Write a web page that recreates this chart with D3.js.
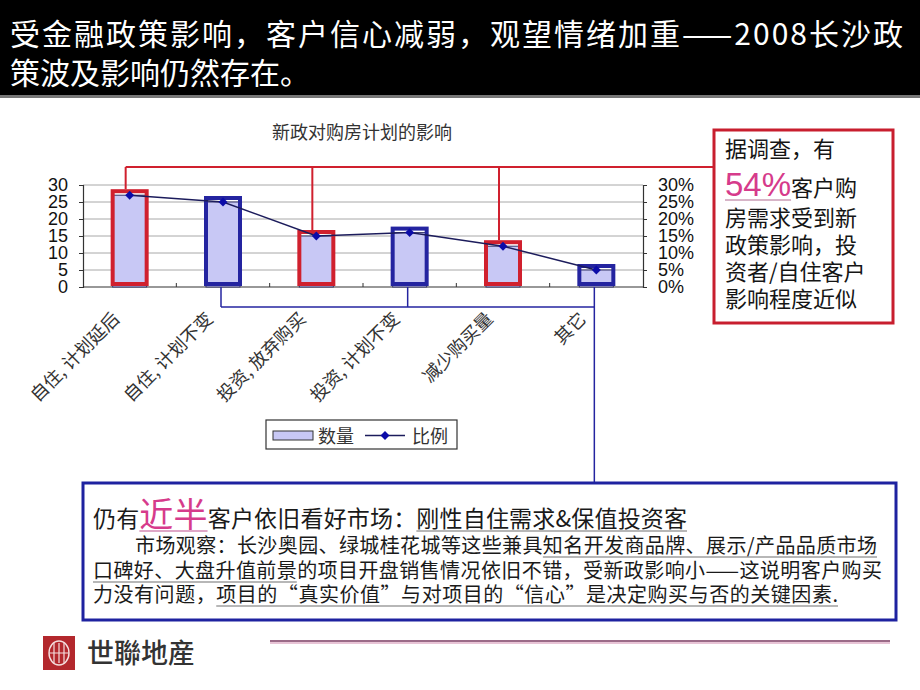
<!DOCTYPE html>
<html><head><meta charset="utf-8">
<script src="https://cdn.jsdelivr.net/npm/d3@7"></script>
<style>html,body{margin:0;padding:0;background:#fff;} svg{display:block;}</style>
</head><body>
<svg id="c" width="920" height="690"></svg>
<script>
// ---------- data ----------
const categories = ["自住, 计划延后", "自住, 计划不变", "投资, 放弃购买", "投资, 计划不变", "减少购买量", "其它"];
const counts = [27, 25, 15, 16, 12, 5];
const ratios = [0.27, 0.25, 0.15, 0.16, 0.12, 0.05];
const affected = [true, false, true, false, true, false];
const countTicks = [0, 5, 10, 15, 20, 25, 30];
const ratioTicks = [0, 0.05, 0.10, 0.15, 0.20, 0.25, 0.30];
const chartTitle = "新政对购房计划的影响";
const legendLabels = ["数量", "比例"];
const headline = ["受金融政策影响，客户信心减弱，观望情绪加重——2008长沙政", "策波及影响仍然存在。"];
const sideNote = ["据调查，有", ["54%", "客户购"], "房需求受到新", "政策影响，投", "资者/自住客户", "影响程度近似"];
const bottomNote = [
  [["仍有", 0], ["近半", 2], ["客户依旧看好市场：", 0], ["刚性自住需求&保值投资客", 1]],
  [["市场观察：长沙奥园、绿城桂花城等这些兼具", 0], ["知名开发商品牌、展示/产品品质市场", 1]],
  [["口碑好、大盘升值前景", 1], ["的项目开盘销售情况依旧不错，受新政影响小——这说明客户购买", 0]],
  [["力没有问题，", 0], ["项目的“真实价值”与对项目的“信心”是决定购买与否的关键因素.", 1]]
];
const brand = "世聯地産";

// ---------- setup ----------
const CJK = "'Noto Sans CJK SC', 'Noto Sans', sans-serif";
const LAT = "'Liberation Sans', Arial, sans-serif";
const PINK = "#d63b8b";
const RED = "#d0202e";
const BLUE = "#2424a0";
const svg = d3.select("#c");

// header
svg.append("rect").attr("x", 0).attr("y", 0).attr("width", 920).attr("height", 96).attr("fill", "#000");
svg.append("rect").attr("x", 0).attr("y", 95).attr("width", 920).attr("height", 3).attr("fill", "#777");
svg.append("text").attr("x", 10).attr("y", 45).attr("fill", "#fff")
  .attr("font-family", CJK).attr("font-size", 30).attr("textLength", 893).attr("lengthAdjust", "spacing")
  .text(headline[0]);
svg.append("text").attr("x", 10).attr("y", 84).attr("fill", "#fff")
  .attr("font-family", CJK).attr("font-size", 30).text(headline[1]);

// ---------- chart ----------
const x = d3.scaleBand().domain(categories).range([83, 643]);
const y = d3.scaleLinear().domain([0, 30]).range([287, 185]);
const yR = d3.scaleLinear().domain([0, 0.30]).range([287, 185]);
const cx = c => x(c) + x.bandwidth() / 2;
const bw = 34;

svg.append("text").attr("x", 362).attr("y", 139).attr("text-anchor", "middle")
  .attr("font-family", CJK).attr("font-size", 18).attr("fill", "#333").text(chartTitle);

// gridlines
svg.append("g").selectAll("line").data(countTicks.filter(t => t > 0)).join("line")
  .attr("x1", 83).attr("x2", 643).attr("y1", d => y(d)).attr("y2", d => y(d))
  .attr("stroke", "#a8a8a8").attr("stroke-width", 1);

// axes
const gL = svg.append("g").attr("transform", "translate(83,0)")
  .call(d3.axisLeft(y).tickValues(countTicks).tickSize(4).tickPadding(11).tickFormat(d3.format("d")));
const gR = svg.append("g").attr("transform", "translate(643,0)")
  .call(d3.axisRight(yR).tickValues(ratioTicks).tickSize(4).tickPadding(11).tickFormat(d3.format(".0%")));
[gL, gR].forEach(g => {
  g.select(".domain").attr("stroke", "#333").attr("stroke-width", 1.2);
  g.selectAll(".tick line").attr("stroke", "#333");
  g.selectAll(".tick text").attr("font-family", LAT).attr("font-size", 18).attr("fill", "#111");
});
// bottom axis
svg.append("line").attr("x1", 83).attr("x2", 643).attr("y1", y(0)).attr("y2", y(0))
  .attr("stroke", "#333").attr("stroke-width", 1.2);
svg.append("g").selectAll("line").data(categories.slice(1)).join("line")
  .attr("x1", d => x(d)).attr("x2", d => x(d)).attr("y1", y(0)).attr("y2", y(0) - 4)
  .attr("stroke", "#333");

// x labels
svg.append("g").selectAll("text").data(categories).join("text")
  .attr("transform", d => `translate(${cx(d) - 9},320) rotate(-45)`)
  .attr("text-anchor", "end").attr("font-family", CJK).attr("font-size", 18).attr("fill", "#333")
  .text(d => d);

// bars
svg.append("g").selectAll("rect").data(categories).join("rect")
  .attr("x", d => cx(d) - bw / 2).attr("width", bw)
  .attr("y", (d, i) => y(counts[i])).attr("height", (d, i) => y(0) - y(counts[i]))
  .attr("fill", "#c8c8f5").attr("stroke", "#333366").attr("stroke-width", 1);

// highlight boxes
svg.append("g").selectAll("rect").data(categories).join("rect")
  .attr("x", d => cx(d) - bw / 2).attr("width", bw)
  .attr("y", (d, i) => y(counts[i]) - 4).attr("height", (d, i) => y(0) - 3 - (y(counts[i]) - 4))
  .attr("fill", "none").attr("stroke", (d, i) => affected[i] ? RED : BLUE).attr("stroke-width", 4);

// line + markers
svg.append("path").datum(categories)
  .attr("d", d3.line().x(d => cx(d)).y((d, i) => yR(ratios[i])))
  .attr("fill", "none").attr("stroke", "#1c1c5c").attr("stroke-width", 1.5);
svg.append("g").selectAll("path").data(categories).join("path")
  .attr("d", d3.symbol(d3.symbolSquare, 40))
  .attr("transform", (d, i) => `translate(${cx(d)},${yR(ratios[i])}) rotate(45)`)
  .attr("fill", "#0c0ca8");

// legend
const lg = svg.append("g");
lg.append("rect").attr("x", 266).attr("y", 420).attr("width", 191).attr("height", 29)
  .attr("fill", "#fff").attr("stroke", "#333").attr("stroke-width", 1.2);
lg.append("rect").attr("x", 273).attr("y", 431).attr("width", 40).attr("height", 9)
  .attr("fill", "#c8c8f5").attr("stroke", "#333").attr("stroke-width", 1);
lg.append("text").attr("x", 318).attr("y", 443).attr("font-family", CJK).attr("font-size", 18)
  .attr("fill", "#333").text(legendLabels[0]);
lg.append("line").attr("x1", 365).attr("x2", 405).attr("y1", 435.5).attr("y2", 435.5)
  .attr("stroke", "#1c1c5c").attr("stroke-width", 1.5);
lg.append("path").attr("d", d3.symbol(d3.symbolSquare, 40))
  .attr("transform", "translate(385,435.5) rotate(45)").attr("fill", "#0c0ca8");
lg.append("text").attr("x", 412).attr("y", 443).attr("font-family", CJK).attr("font-size", 18)
  .attr("fill", "#333").text(legendLabels[1]);

// ---------- connectors ----------
const redIdx = categories.map((c, i) => i).filter(i => affected[i]);
const blueIdx = categories.map((c, i) => i).filter(i => !affected[i]);
const redX = i => cx(categories[i]) - 4;
const blueX = i => cx(categories[i]) - 2;
const cn = svg.append("g");
cn.selectAll(".rv").data(redIdx).join("line")
  .attr("x1", redX).attr("x2", redX).attr("y1", 167).attr("y2", i => y(counts[i]) - 6)
  .attr("stroke", RED).attr("stroke-width", 2);
cn.append("line").attr("x1", redX(redIdx[0])).attr("x2", 714).attr("y1", 167).attr("y2", 167)
  .attr("stroke", RED).attr("stroke-width", 2);
cn.selectAll(".bv").data(blueIdx).join("line")
  .attr("x1", blueX).attr("x2", blueX).attr("y1", y(0)).attr("y2", 307)
  .attr("stroke", BLUE).attr("stroke-width", 1.5);
cn.append("line").attr("x1", blueX(blueIdx[0])).attr("x2", blueX(blueIdx[blueIdx.length - 1]))
  .attr("y1", 307).attr("y2", 307).attr("stroke", BLUE).attr("stroke-width", 1.5);
cn.append("line").attr("x1", blueX(blueIdx[blueIdx.length - 1])).attr("x2", blueX(blueIdx[blueIdx.length - 1]))
  .attr("y1", 307).attr("y2", 483).attr("stroke", BLUE).attr("stroke-width", 1.5);

// ---------- side note (red box) ----------
svg.append("rect").attr("x", 714).attr("y", 130).attr("width", 179).attr("height", 193)
  .attr("fill", "#fff").attr("stroke", "#c81e2e").attr("stroke-width", 3);
const sideY = [157, 196, 226, 253, 280, 307];
sideNote.forEach((ln, k) => {
  const t = svg.append("text").attr("x", 725).attr("y", sideY[k]).attr("font-family", CJK)
    .attr("font-size", 22).attr("fill", "#151515");
  if (Array.isArray(ln)) {
    t.append("tspan").attr("font-family", LAT).attr("font-size", 33).attr("fill", PINK).text(ln[0]);
    t.append("tspan").text(ln[1]);
    const n = t.node();
    const a = n.getStartPositionOfChar(0).x, b = n.getEndPositionOfChar(ln[0].length - 1).x;
    svg.append("line").attr("x1", a).attr("x2", b).attr("y1", sideY[k] + 4).attr("y2", sideY[k] + 4)
      .attr("stroke", "#b06a90").attr("stroke-width", 1);
  } else t.text(ln);
});

// ---------- bottom note (blue box) ----------
svg.append("rect").attr("x", 83).attr("y", 483).attr("width", 813).attr("height", 137)
  .attr("fill", "#fff").attr("stroke", "#1e22a0").attr("stroke-width", 3);
const bnX = [93, 135, 93, 93];
const bnY = [527, 553, 578, 602];
const bnLen = [594, 742, 789, 745];
const bnSize = [23, 20, 20, 20];
bottomNote.forEach((parts, k) => {
  const t = svg.append("text").attr("x", bnX[k]).attr("y", bnY[k]).attr("font-family", CJK)
    .attr("font-size", bnSize[k]).attr("fill", "#1a1a1a")
    .attr("textLength", bnLen[k]).attr("lengthAdjust", "spacing");
  parts.forEach(p => {
    const s = t.append("tspan").text(p[0]);
    if (p[1] === 2) s.attr("font-size", 34).attr("fill", PINK);
  });
  const n = t.node();
  let idx = 0;
  parts.forEach(p => {
    const len = p[0].length;
    if (p[1] > 0) {
      const a = n.getStartPositionOfChar(idx).x, b = n.getEndPositionOfChar(idx + len - 1).x;
      svg.append("line").attr("x1", a).attr("x2", b).attr("y1", bnY[k] + 4).attr("y2", bnY[k] + 4)
        .attr("stroke", p[1] === 2 ? "#c05090" : "#707070").attr("stroke-width", 1.2);
    }
    idx += len;
  });
});

// ---------- footer ----------
svg.append("line").attr("x1", 270).attr("x2", 890).attr("y1", 643).attr("y2", 643)
  .attr("stroke", "#e8c4d6").attr("stroke-width", 2);
svg.append("line").attr("x1", 270).attr("x2", 890).attr("y1", 641).attr("y2", 641)
  .attr("stroke", "#7a3a60").attr("stroke-width", 1.6);
const logo = svg.append("g");
logo.append("rect").attr("x", 43).attr("y", 636).attr("width", 32).attr("height", 34).attr("fill", "#b3282d");
logo.append("ellipse").attr("cx", 59).attr("cy", 653).attr("rx", 10).attr("ry", 12)
  .attr("fill", "none").attr("stroke", "#f4dede").attr("stroke-width", 1.4);
[54, 59, 64].forEach(v => logo.append("line").attr("x1", v).attr("x2", v).attr("y1", 643).attr("y2", 663)
  .attr("stroke", "#f4dede").attr("stroke-width", 1.2));
logo.append("line").attr("x1", 49).attr("x2", 69).attr("y1", 653).attr("y2", 653)
  .attr("stroke", "#f4dede").attr("stroke-width", 1);
svg.append("text").attr("x", 87).attr("y", 663).attr("font-family", "'Noto Sans CJK TC', " + CJK)
  .attr("font-size", 27).attr("font-weight", 500).attr("fill", "#333").text(brand);
</script>
</body></html>
